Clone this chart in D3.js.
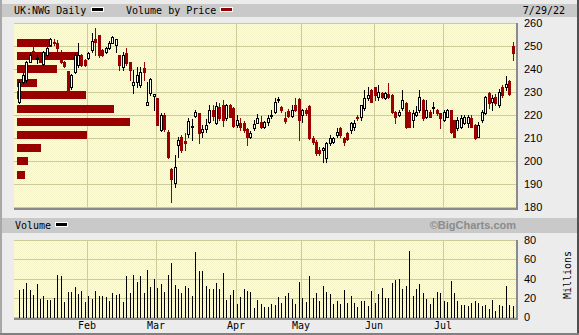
<!DOCTYPE html>
<html><head><meta charset="utf-8">
<script src="https://cdn.jsdelivr.net/npm/d3@7/dist/d3.min.js"></script>
<style>
html,body{margin:0;padding:0;background:#ececec;}
svg{display:block;}
</style></head><body>
<svg id="c" width="579" height="335"></svg>
<script>
// ---- data ----
const dates = ["1/4","1/5","1/6","1/7","1/10","1/11","1/12","1/13","1/14","1/17","1/18","1/19","1/20","1/21","1/24","1/25","1/26","1/27","1/28","1/31",
"2/1","2/2","2/3","2/4","2/7","2/8","2/9","2/10","2/11","2/14","2/15","2/16","2/17","2/18","2/21","2/22","2/23","2/24","2/25","2/28",
"3/1","3/2","3/3","3/4","3/7","3/8","3/9","3/10","3/11","3/14","3/15","3/16","3/17","3/18","3/21","3/22","3/23","3/24","3/25","3/28","3/29","3/30","3/31",
"4/1","4/4","4/5","4/6","4/7","4/8","4/11","4/12","4/13","4/14","4/19","4/20","4/21","4/22","4/25","4/26","4/27","4/28","4/29",
"5/3","5/4","5/5","5/6","5/9","5/10","5/11","5/12","5/13","5/16","5/17","5/18","5/19","5/20","5/23","5/24","5/25","5/26","5/27","5/30","5/31",
"6/1","6/6","6/7","6/8","6/9","6/10","6/13","6/14","6/15","6/16","6/17","6/20","6/21","6/22","6/23","6/24","6/27","6/28","6/29","6/30",
"7/1","7/4","7/5","7/6","7/7","7/8","7/11","7/12","7/13","7/14","7/15","7/18","7/19","7/20","7/21","7/22","7/25","7/26","7/27","7/28","7/29"];

const opens = [225.8,234.5,235.2,243.2,248.0,244.3,244.6,242.2,246.1,250.4,251.9,251.2,244.3,243.2,239.1,232.0,238.8,241.7,246.1,243.9,
244.6,248.3,252.9,254.8,248.3,247.5,249.0,251.4,250.4,246.1,241.0,246.8,243.2,233.0,234.5,233.0,240.3,224.3,229.4,228.3,
227.2,213.5,220.0,212.8,196.4,190.3,207.0,210.6,208.9,211.7,214.9,219.7,220.7,212.8,213.8,217.1,222.2,216.4,223.6,224.4,218.5,224.4,222.9,
215.7,216.7,216.4,213.8,210.6,214.2,216.7,217.1,214.9,217.1,219.7,221.5,226.5,223.6,218.5,221.9,219.5,224.4,226.8,
220.0,222.0,223.9,209.9,208.4,204.8,204.8,201.2,207.7,208.4,211.3,214.2,209.9,212.0,213.5,215.0,219.3,219.3,222.9,
227.2,230.9,232.3,228.0,229.7,227.2,229.0,228.7,221.4,220.0,222.9,225.1,221.4,217.8,220.0,222.2,226.5,219.3,221.4,223.0,
222.2,220.7,217.8,219.3,222.2,217.8,214.2,214.9,216.4,216.4,218.5,215.7,210.6,217.8,220.7,229.4,225.8,228.0,224.3,232.0,232.0,234.8,250.0];
const highs = [235.2,238.8,243.5,246.8,249.7,246.1,245.4,248.0,249.7,253.6,252.9,252.6,248.3,243.5,239.1,238.0,246.8,251.2,246.5,244.3,
247.2,255.5,257.7,254.8,248.5,249.5,252.0,254.3,253.2,246.1,247.5,249.0,243.2,239.6,241.0,241.0,243.2,234.5,236.0,229.2,
227.5,220.7,220.7,213.5,196.8,202.6,210.6,211.3,212.0,218.5,218.1,222.2,220.7,215.7,218.1,224.4,224.4,225.8,225.1,226.5,225.0,225.0,223.5,
220.0,218.5,217.5,214.2,213.0,217.8,220.4,219.5,217.5,220.0,222.2,227.5,228.0,224.0,221.5,222.5,224.3,227.2,227.5,
222.5,223.0,224.5,211.0,209.0,206.0,206.2,208.4,211.3,210.5,214.2,214.9,210.6,212.8,217.1,217.8,220.0,224.4,230.9,
232.0,231.2,232.3,233.0,230.0,230.0,233.8,229.0,221.8,222.0,230.9,225.5,222.2,222.2,224.0,230.9,227.0,226.5,222.0,225.8,
222.5,220.7,222.2,222.5,222.2,218.0,219.3,220.0,220.0,220.0,220.0,216.0,217.1,222.0,228.3,230.1,228.7,229.0,231.2,233.0,237.0,235.2,251.9];
const lows = [225.4,233.8,234.5,243.0,246.8,242.5,242.9,241.7,245.4,250.0,250.4,247.5,242.5,241.0,229.5,231.5,238.1,241.0,241.3,241.3,
244.3,247.5,246.1,245.4,245.8,247.0,248.5,251.2,247.5,239.6,239.6,241.7,235.2,229.4,232.3,232.3,235.2,224.3,228.7,222.2,
215.5,213.2,213.2,201.5,182.3,188.5,201.9,204.1,204.8,210.6,209.1,219.3,208.0,210.6,212.8,216.4,217.8,216.1,217.8,215.2,218.0,219.0,215.0,
214.9,213.5,212.8,207.0,210.0,213.5,216.4,214.5,214.5,215.7,218.5,220.7,225.5,221.5,216.4,219.0,219.3,221.8,209.2,
217.1,220.0,209.5,207.5,202.5,202.5,199.7,199.7,207.0,208.0,210.6,210.6,207.0,209.1,212.0,213.5,218.0,217.8,222.2,
226.5,225.5,226.5,226.5,227.5,227.0,227.2,221.0,216.4,219.5,222.2,214.5,214.6,214.9,219.5,221.5,217.8,218.5,219.0,220.7,
220.0,214.2,217.5,219.0,212.0,210.3,213.5,214.2,216.0,214.9,214.9,209.5,210.6,217.1,220.5,222.9,222.2,224.5,223.6,228.0,230.9,228.7,243.9];
const closes = [234.5,237.4,243.2,246.1,247.8,244.6,243.2,247.5,249.0,253.0,251.2,249.0,242.9,241.5,230.1,237.4,246.1,246.1,241.7,241.7,
246.8,252.3,251.9,246.1,246.1,249.0,251.4,253.8,252.9,241.7,246.1,242.5,239.6,234.5,237.4,238.8,238.8,225.8,235.7,229.0,
215.7,220.0,213.8,201.9,192.2,197.5,209.1,204.8,208.0,217.5,215.2,221.2,212.3,213.9,215.7,222.2,219.6,223.9,218.5,217.8,224.4,219.3,215.2,
217.8,214.6,213.5,210.3,212.3,216.1,218.5,214.9,217.1,218.5,220.0,225.8,226.8,222.2,217.5,219.6,222.0,222.2,218.0,
222.2,221.0,209.9,208.4,203.3,203.3,205.5,207.7,209.9,209.9,212.8,211.3,208.4,209.4,216.4,216.4,218.5,224.4,227.2,
228.7,225.8,228.7,230.1,228.0,229.7,228.0,221.4,219.3,221.4,226.5,214.9,214.9,220.7,221.4,228.0,218.5,222.2,219.3,223.6,
220.7,218.5,221.4,222.2,212.8,210.6,217.8,218.5,219.3,219.3,214.9,209.9,215.7,221.4,228.0,225.1,227.2,225.1,230.1,228.7,233.5,229.0,247.1];
const volumes = [27.7,28.7,35.3,27.7,22.5,33.9,18.4,21.5,17.3,17.3,19.4,43.3,42.3,15.2,25.6,25.6,30.8,23.5,26.7,15.2,
21.5,18.4,26.7,21.5,21.5,20.4,16.3,24.6,22.5,23.5,15.2,42.3,24.6,43.3,36.4,42.3,24.6,48.5,30.8,39.1,
29.8,33.9,25.6,43.3,55.8,32.9,28.7,24.6,31.9,29.8,21.5,67.2,47.4,47.4,31.9,28.7,28.7,35.0,28.7,45.4,17.3,22.5,27.7,
13.2,20.4,28.7,26.7,25.6,9.0,17.3,13.2,10.0,10.0,13.2,12.1,20.4,14.2,21.5,24.6,19.0,13.9,36.4,
20.1,15.6,42.6,20.1,24.9,16.6,31.9,26.0,23.5,13.2,16.6,13.2,27.7,14.5,21.5,14.5,10.4,16.6,16.6,
11.1,26.7,14.5,23.5,30.5,20.1,19.7,35.3,38.1,39.5,28.7,31.9,68.2,21.5,28.7,33.9,24.9,18.4,13.2,19.7,
25.6,24.6,16.3,15.6,37.4,24.6,16.6,12.1,12.1,11.1,14.9,16.6,14.5,11.4,12.5,8.0,17.3,6.2,12.8,11.8,31.9,12.1,11.8];

// volume by price: bin centre price and volume (millions)
const vbpPrices = [251.4,245.7,239.9,234.0,228.5,222.7,217.1,211.4,205.7,199.9,194.0];
const vbpVolumes = [210,364,240,120,416,584,680,422,146,68,50];

const priceTicks = [180,190,200,210,220,230,240,250,260];
const volumeTicks = [0,20,40,60,80];
const monthLabels = ["Jan","Feb","Mar","Apr","May","Jun","Jul"];

// ---- drawing ----
const RED = "#990000", GRID = "#cccc99";
const svg = d3.select("#c");
const defs = svg.append("defs");
const pat = defs.append("pattern").attr("id","dots").attr("width",2).attr("height",2).attr("patternUnits","userSpaceOnUse");
pat.append("rect").attr("width",2).attr("height",2).attr("fill","#ffffd8");
pat.append("rect").attr("width",1).attr("height",1).attr("fill","#f2f2c6");
pat.append("rect").attr("x",1).attr("y",1).attr("width",1).attr("height",1).attr("fill","#f2f2c6");

const g = svg.append("g").attr("shape-rendering","crispEdges");
// frame
g.append("rect").attr("x",0).attr("y",0).attr("width",579).attr("height",335).attr("fill","#ececec");
g.append("rect").attr("x",0).attr("y",0).attr("width",2).attr("height",335).attr("fill","#a8a8a8");
g.append("rect").attr("x",577).attr("y",0).attr("width",2).attr("height",335).attr("fill","#505050");
g.append("rect").attr("x",0).attr("y",333).attr("width",579).attr("height",2).attr("fill","#808080");
// header bars
g.append("rect").attr("x",2).attr("y",4).attr("width",575).attr("height",13).attr("fill","#c9c9c9");
g.append("rect").attr("x",2).attr("y",218).attr("width",575).attr("height",15).attr("fill","#c9c9c9");

const PL = 14, PR = 516;
const x = d3.scaleLinear().domain([0, dates.length-1]).range([19.3, 512.65]);
const y = d3.scaleLinear().domain([180,260]).range([207,23]);
const yv = d3.scaleLinear().domain([0,80]).range([317,240]);
const xv = d3.scaleLinear().domain([0,680]).range([17,130.3]);

function panel(top, bottom){
  g.append("rect").attr("x",PL).attr("y",top).attr("width",PR-PL).attr("height",bottom-top).attr("fill","url(#dots)");
}
panel(23,208);
panel(240,318);

// month boundaries
const monthStarts = [];
dates.forEach((d,i)=>{ if(i>0 && d.split("/")[0]!==dates[i-1].split("/")[0]) monthStarts.push({i, m:+d.split("/")[0]}); });

// grids
function hgrid(scale, ticks){
  g.append("g").selectAll("line").data(ticks).join("line")
   .attr("x1",PL).attr("x2",PR).attr("y1",d=>Math.round(scale(d))+0.5).attr("y2",d=>Math.round(scale(d))+0.5)
   .attr("stroke",GRID);
}
function vgrid(top,bottom){
  g.append("g").selectAll("line").data(monthStarts).join("line")
   .attr("x1",d=>Math.round(x(d.i))-1+0.5).attr("x2",d=>Math.round(x(d.i))-1+0.5)
   .attr("y1",top).attr("y2",bottom).attr("stroke",GRID);
}
hgrid(y, priceTicks); vgrid(23,208);
hgrid(yv, volumeTicks); vgrid(240,318);

// shadows
function shadow(top,bottom){
  g.append("rect").attr("x",PL).attr("y",bottom).attr("width",PR-PL+2).attr("height",2).attr("fill","#8a8a8a");
  g.append("rect").attr("x",PR).attr("y",top).attr("width",2).attr("height",bottom-top+2).attr("fill","#8a8a8a");
}
shadow(23,208); shadow(240,318);

// volume by price
g.append("g").selectAll("rect").data(vbpPrices).join("rect")
  .attr("x",xv(0)).attr("y",d=>Math.round(y(d))-4).attr("height",8)
  .attr("width",(d,i)=>xv(vbpVolumes[i])-xv(0)).attr("fill",RED);

// candles
const cg = g.append("g");
dates.forEach((d,i)=>{
  const xc = Math.round(x(i));
  const up = closes[i] >= opens[i];
  const col = up ? "#000" : RED;
  cg.append("line").attr("x1",xc+0.5).attr("x2",xc+0.5)
    .attr("y1",Math.round(y(highs[i]))).attr("y2",Math.round(y(lows[i]))+1).attr("stroke",col);
  const top = Math.round(y(Math.max(opens[i],closes[i])));
  const bot = Math.round(y(Math.min(opens[i],closes[i])));
  if(up){
    cg.append("rect").attr("x",xc-0.5).attr("y",top+0.5).attr("width",2).attr("height",Math.max(bot-top,1))
      .attr("fill","#fffff8").attr("stroke","#000");
  } else {
    cg.append("rect").attr("x",xc-1).attr("y",top).attr("width",3).attr("height",Math.max(bot-top,1)+1).attr("fill",RED);
  }
});

// volume bars
g.append("g").selectAll("line").data(volumes).join("line")
  .attr("x1",(d,i)=>Math.round(x(i))+0.5).attr("x2",(d,i)=>Math.round(x(i))+0.5)
  .attr("y1",d=>Math.round(yv(d))).attr("y2",yv(0)+1).attr("stroke","#000");

// texts
const T = svg.append("g").attr("font-family","'DejaVu Sans Mono',monospace").attr("font-size","10px").attr("fill","#000");
T.append("text").attr("x",14).attr("y",14).text("UK:NWG Daily");
g.append("rect").attr("x",91).attr("y",7).attr("width",13).attr("height",5).attr("fill","#fff");
g.append("rect").attr("x",92).attr("y",8).attr("width",11).attr("height",3).attr("fill","#000");
T.append("text").attr("x",126).attr("y",14).text("Volume by Price");
g.append("rect").attr("x",220).attr("y",7).attr("width",13).attr("height",5).attr("fill","#fff");
g.append("rect").attr("x",221).attr("y",8).attr("width",11).attr("height",3).attr("fill",RED);
T.append("text").attr("x",565).attr("y",14).attr("text-anchor","end").text("7/29/22");
T.append("text").attr("x",15).attr("y",229).text("Volume");
g.append("rect").attr("x",55).attr("y",222).attr("width",13).attr("height",5).attr("fill","#fff");
g.append("rect").attr("x",56).attr("y",223).attr("width",11).attr("height",3).attr("fill","#000");
svg.append("text").attr("x",516).attr("y",229).attr("text-anchor","end")
  .attr("font-family","'Liberation Sans',Arial,sans-serif").attr("font-weight","bold").attr("font-size","11px")
  .attr("fill","#8c8c8c").text("\u00a9BigCharts.com");

const A = svg.append("g").attr("font-family","'Liberation Sans',Arial,sans-serif").attr("font-size","11px").attr("fill","#000");
A.selectAll("text.p").data(priceTicks).join("text").attr("class","p")
  .attr("x",524).attr("y",d=>y(d)+4).text(d=>d);
A.selectAll("text.v").data(volumeTicks).join("text").attr("class","v")
  .attr("x",524).attr("y",d=>yv(d)+4).text(d=>d);
T.append("text").attr("transform","translate(571,275) rotate(-90)").attr("text-anchor","middle").text("Millions");
T.selectAll("text.m").data(monthStarts).join("text").attr("class","m")
  .attr("x",d=>Math.round(x(d.i))-1).attr("y",329).attr("text-anchor","middle")
  .text(d=>monthLabels[d.m-1]);
</script>
</body></html>
